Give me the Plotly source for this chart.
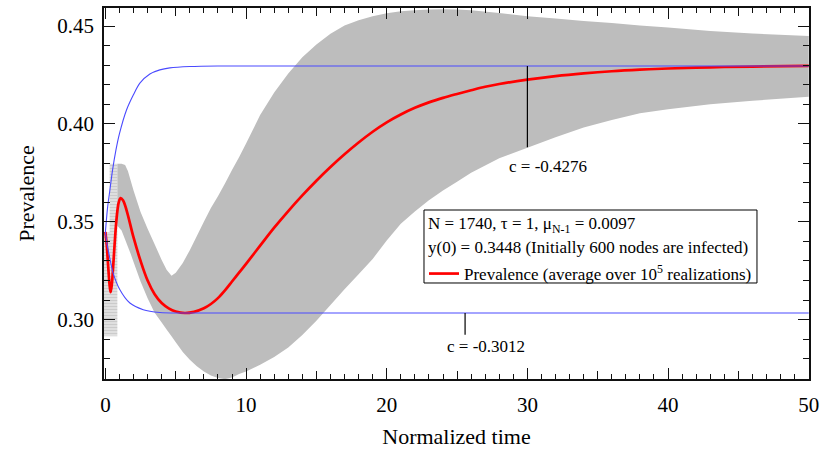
import plotly.graph_objects as go

FONT = "Liberation Serif, Times New Roman, serif"

# ---- mean prevalence (red curve) ----
t_mean = [0, 0.1, 0.2, 0.3, 0.37, 0.45, 0.55, 0.65, 0.75, 0.85, 0.95, 1.08, 1.25, 1.5,
          2.0, 2.5, 3.0, 3.5, 4.0, 4.5, 5.0, 5.65, 6.3, 7.0, 7.5, 8.0, 8.5, 9.0, 9.5, 10.0,
          11.0, 12.0, 13.0, 14.0, 15.0, 16.0, 17.0, 18.0, 19.0, 20.0, 21.0, 22.0, 23.0,
          24.0, 25.0, 26.0, 27.0, 28.0, 30.0, 32.0, 34.0, 36.0, 38.0, 40.0, 43.0, 46.0, 50.0]
y_mean = [0.3448, 0.3375, 0.3270, 0.3175, 0.3140, 0.3175, 0.3270, 0.3380, 0.3480, 0.3555,
          0.3600, 0.3621, 0.3610, 0.3560, 0.3420, 0.3300, 0.3200, 0.3130, 0.3085, 0.3058,
          0.3042, 0.3034, 0.3040, 0.3058, 0.3080, 0.3110, 0.3150, 0.3195, 0.3240, 0.3285,
          0.3378, 0.3470, 0.3555, 0.3635, 0.3710, 0.3780, 0.3845, 0.3905, 0.3960, 0.4008,
          0.4048, 0.4082, 0.4110, 0.4133, 0.4153, 0.4172, 0.4190, 0.4204, 0.4226, 0.4244,
          0.4258, 0.4269, 0.4277, 0.4283, 0.4289, 0.4293, 0.4296]

# ---- mean-field solutions (blue curves) ----
t_up = [0, 0.15, 0.32, 0.5, 0.75, 1.0, 1.5, 2.0, 2.45, 3.16, 3.87, 4.58, 6.0, 8.0, 50]
y_up = [0.3448, 0.3570, 0.3663, 0.3760, 0.3867, 0.3950, 0.4071, 0.4150, 0.4208, 0.4255,
        0.4276, 0.4286, 0.4293, 0.4296, 0.4296]
t_lo = [0, 0.12, 0.27, 0.55, 1.03, 1.74, 2.69, 3.87, 5.5, 50]
y_lo = [0.3448, 0.3385, 0.3330, 0.3238, 0.3153, 0.3085, 0.3051, 0.3037, 0.3034, 0.3034]

# ---- spread over realizations (grey band) ----
band_t = [0.85, 1.15, 1.4, 1.6, 1.8, 2.0, 2.5, 3.0, 3.5, 4.0, 4.35, 4.7, 5.0, 5.5, 6.0,
          6.5, 7.0, 7.5, 8.0, 8.5, 9.0, 9.5, 10.0, 11.0, 12.0, 13.0, 14.0, 15.0, 16.0,
          17.0, 18.0, 19.0, 20.0, 21.0, 22.0, 23.0, 24.0, 25.0, 26.0, 28.0, 30.0, 32.0,
          34.0, 36.0, 38.0, 40.0, 43.0, 46.0, 50.0]
band_lo = [0.3480, 0.3455, 0.3410, 0.3372, 0.3335, 0.3295, 0.3195, 0.3110, 0.3035, 0.2985,
           0.2950, 0.2915, 0.2885, 0.2835, 0.2795, 0.2762, 0.2735, 0.2715, 0.2702, 0.2696,
           0.2705, 0.2722, 0.2735, 0.2770, 0.2810, 0.2858, 0.2922, 0.2995, 0.3075, 0.3155,
           0.3232, 0.3310, 0.3405, 0.3490, 0.3552, 0.3610, 0.3660, 0.3705, 0.3750, 0.3825,
           0.3878, 0.3932, 0.3982, 0.4020, 0.4055, 0.4075, 0.4100, 0.4118, 0.4139]
band_hi = [0.3796, 0.3796, 0.3790, 0.3760, 0.3710, 0.3660, 0.3550, 0.3465, 0.3385, 0.3305,
           0.3255, 0.3224, 0.3240, 0.3290, 0.3355, 0.3428, 0.3500, 0.3570, 0.3630, 0.3695,
           0.3765, 0.3830, 0.3900, 0.4045, 0.4160, 0.4258, 0.4340, 0.4405, 0.4460, 0.4502,
           0.4530, 0.4550, 0.4565, 0.4575, 0.4581, 0.4584, 0.4585, 0.4584, 0.4580, 0.4567,
           0.4550, 0.4538, 0.4526, 0.4516, 0.4503, 0.4492, 0.4474, 0.4462, 0.4449]

# early-time error bars (individual caps visible)
early_t = [-0.1, 0.3, 0.3, 0.85]
early_hi = [0.3448, 0.3448, 0.3796, 0.3796]
early_lo = [0.2915, 0.2915, 0.2915, 0.2915]

c_labels = ["c = -0.4276", "c = -0.3012"]
info_lines = ["N = 1740, τ = 1, μ<sub>N-1</sub> = 0.0097",
              "y(0) = 0.3448 (Initially 600 nodes are infected)"]
x_ticks = [0, 10, 20, 30, 40, 50]
y_ticks = [0.30, 0.35, 0.40, 0.45]

fig = go.Figure()

fig.add_trace(go.Scatter(
    x=early_t + early_t[::-1], y=early_hi + early_lo[::-1],
    fill="toself", mode="none", fillcolor="#dcdcdc",
    fillpattern=dict(shape="-", size=3, solidity=0.45, fgcolor="#b4b4b4", bgcolor="#e2e2e2"),
    hoverinfo="skip", showlegend=False))

fig.add_trace(go.Scatter(
    x=band_t + band_t[::-1], y=band_hi + band_lo[::-1],
    fill="toself", mode="none", fillcolor="#bdbdbd",
    hoverinfo="skip", showlegend=False))

fig.add_trace(go.Scatter(
    x=t_mean, y=y_mean, mode="lines",
    line=dict(color="#ff0000", width=2.7, shape="spline", smoothing=1.0),
    name="Prevalence (average over 10<sup>5</sup> realizations)", showlegend=True))

for tt, yy in ((t_up, y_up), (t_lo, y_lo)):
    fig.add_trace(go.Scatter(
        x=tt, y=yy, mode="lines",
        line=dict(color="#4a4aff", width=1.1, shape="spline", smoothing=0.8),
        hoverinfo="skip", showlegend=False))

# helper trace so the 5-unit tick axis is drawn
fig.add_trace(go.Scatter(x=[None], y=[None], xaxis="x2", showlegend=False, hoverinfo="skip"))

# leader lines from the plateaus to the labels
fig.add_shape(type="line", x0=30, x1=30, y0=y_up[-1], y1=0.3881,
              line=dict(color="black", width=1.2))
fig.add_shape(type="line", x0=25.57, x1=25.57, y0=y_lo[-1], y1=0.2923,
              line=dict(color="black", width=1.2))
fig.add_annotation(x=31.45, y=0.378, text=c_labels[0], showarrow=False,
                   font=dict(family=FONT, size=17, color="black"))
fig.add_annotation(x=27.03, y=0.2864, text=c_labels[1], showarrow=False,
                   font=dict(family=FONT, size=17, color="black"))

# info box: frame, two text lines, legend entry inside
fig.add_shape(type="rect", xref="paper", yref="paper", x0=0.4539, x1=0.9262,
              y0=0.2588, y1=0.4555, layer="above",
              line=dict(color="black", width=1), fillcolor="white")
for txt, yp in zip(info_lines, (0.4151, 0.3531)):
    fig.add_annotation(xref="paper", yref="paper", x=0.4565, y=yp, text=txt,
                       xanchor="left", yanchor="middle", showarrow=False,
                       font=dict(family=FONT, size=17, color="black"))

xr = [-0.1, 50.02]
axis_common = dict(showgrid=False, zeroline=False, showline=True, linecolor="#111",
                   linewidth=1.5, mirror="ticks", ticks="inside", tickcolor="#111",
                   tickwidth=1.3, automargin=False)

fig.update_layout(
    width=820, height=449, autosize=False,
    margin=dict(l=104, r=11, t=8, b=70),
    plot_bgcolor="white", paper_bgcolor="white",
    font=dict(family=FONT, color="black", size=17),
    xaxis=dict(range=xr, tickvals=x_ticks, ticklen=11,
               minor=dict(dtick=1, tick0=0, ticklen=5, ticks="inside", tickcolor="#111",
                          tickwidth=1.1, showgrid=False),
               tickfont=dict(family=FONT, size=21, color="black"), ticklabelstandoff=6,
               title=dict(text="Normalized time",
                          font=dict(family=FONT, size=22, color="black"), standoff=16),
               **axis_common),
    xaxis2=dict(range=xr, overlaying="x", anchor="y", side="bottom", tickmode="linear",
                tick0=0, dtick=5, ticklen=8, showticklabels=False, **axis_common),
    yaxis=dict(range=[0.2697, 0.4592], tickvals=y_ticks, tickformat=".2f", ticklen=11,
               minor=dict(dtick=0.01, tick0=0.30, ticklen=6, ticks="inside", tickcolor="#111",
                          tickwidth=1.1, showgrid=False),
               tickfont=dict(family=FONT, size=21, color="black"), ticklabelstandoff=4,
               title=dict(text="Prevalence",
                          font=dict(family=FONT, size=22, color="black"), standoff=17),
               **axis_common),
    legend=dict(
        x=0.4539, y=0.283, xanchor="left", yanchor="middle",
        bgcolor="rgba(0,0,0,0)", borderwidth=0,
        font=dict(family=FONT, size=17, color="black"),
        itemwidth=30),
)

fig.write_html("out.html")
